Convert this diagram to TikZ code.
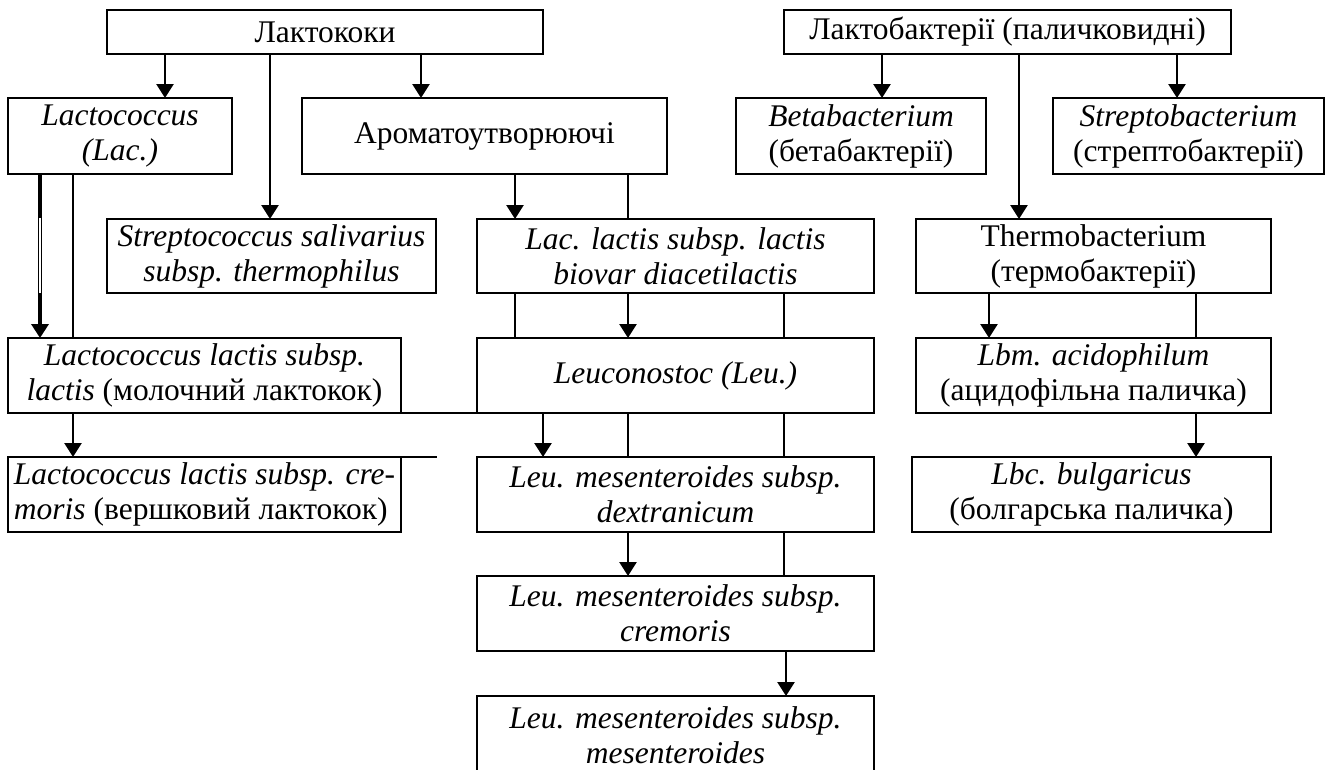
\documentclass[tikz,border=0pt]{standalone}
\usepackage{fontspec}
\setmainfont{Liberation Serif}
\usetikzlibrary{arrows.meta,calc}
\tikzset{
  box/.style={draw, line width=2.6pt, inner sep=0pt, outer sep=0pt, align=center,
    font=\fontsize{31.5}{35}\selectfont},
  arr/.style={line width=2.6pt, -{Triangle[width=17pt,length=14pt]}},
  link/.style={line width=2.6pt},
}
% box given by its corners: name, x1, y1, x2, y2, text
\newcommand\boxat[6]{%
  \node[box, minimum width={#4-#2}, minimum height={#5-#3}] (#1)
    at ({(#2+#4)/2},{(#3+#5)/2}) {#6};}
% vertical connector at abscissa #4 from the bottom of #2 to the top of #3
\newcommand\vlink[4]{%
  \draw[#1] let \p1=(#2.south), \p2=(#3.north) in (#4,\y1) -- (#4,\y2);}
\begin{document}
\begin{tikzpicture}[x=1pt,y=-1pt]
\useasboundingbox (0,0) rectangle (1326,769);
\clip (0,0) rectangle (1326,769);

% first row
\boxat{lakt}{107}{10}{543}{54}{Лактококи}
\boxat{lbact}{784}{10}{1231}{54}{Лактобактерії (паличковидні)}

% second row
\boxat{lac}{8}{98}{232}{174}{\textit{Lactococcus}\\\textit{(Lac.)}}
\boxat{arom}{302}{98}{667}{174}{Ароматоутворюючі}
\boxat{beta}{736}{98}{986}{174}{\textit{Betabacterium}\\(бетабактерії)}
\boxat{strb}{1053}{98}{1324}{174}{\textit{Streptobacterium}\\(стрептобактерії)}

% third row
\boxat{strc}{107}{219}{436}{293}{\textit{Streptococcus salivarius}\\\textit{subsp. thermophilus}}
\boxat{diac}{477}{219}{874}{293}{\textit{Lac. lactis subsp. lactis}\\\textit{biovar diacetilactis}}
\boxat{therm}{916}{219}{1271}{293}{Thermobacterium\\(термобактерії)}

% fourth row
\boxat{lll}{8}{338}{401}{413}{\textit{Lactococcus lactis subsp.}\\\textit{lactis} (молочний лактокок)}
\boxat{leu}{477}{338}{874}{413}{\textit{Leuconostoc (Leu.)}}
\boxat{lbm}{916}{338}{1271}{413}{\textit{Lbm. acidophilum}\\(ацидофільна паличка)}

% fifth row
\node[box, minimum width=393pt, minimum height=75pt, align=left] (llc) at (204.5,494.5)
  {\textit{Lactococcus lactis subsp. cre-}\\\textit{moris} (вершковий лактокок)};
\boxat{dex}{477}{457}{874}{532}{\textit{Leu. mesenteroides subsp.}\\\textit{dextranicum}}
\boxat{lbc}{912}{457}{1271}{532}{\textit{Lbc. bulgaricus}\\(болгарська паличка)}

% lower rows
\boxat{lcr}{477}{576}{874}{651}{\textit{Leu. mesenteroides subsp.}\\\textit{cremoris}}
\boxat{lme}{477}{696}{874}{774}{\textit{Leu. mesenteroides subsp.}\\\textit{mesenteroides}}

% connectors of the lactococci branch
\vlink{arr}{lakt}{lac}{165}
\vlink{arr}{lakt}{strc}{270}
\vlink{arr}{lakt}{arom}{421}
\vlink{arr, line width=4.5pt}{lac}{lll}{40}
\vlink{white, line width=1.2pt, shorten <=44pt, shorten >=45pt}{lac}{lll}{40}
\vlink{link}{lac}{lll}{73}
\vlink{arr}{lll}{llc}{73}
\vlink{arr}{arom}{diac}{515}
\vlink{link}{arom}{diac}{628}
\vlink{link}{diac}{leu}{515}
\vlink{arr}{diac}{leu}{628}
\vlink{link}{diac}{leu}{784}
\vlink{arr}{leu}{dex}{543}
\vlink{link}{leu}{dex}{628}
\vlink{link}{leu}{dex}{784}
\vlink{arr}{dex}{lcr}{628}
\vlink{link}{dex}{lcr}{784}
\vlink{arr}{lcr}{lme}{786}

% connectors of the lactobacteria branch
\vlink{arr}{lbact}{beta}{882}
\vlink{arr}{lbact}{therm}{1019}
\vlink{arr}{lbact}{strb}{1177}
\vlink{arr}{therm}{lbm}{989}
\vlink{link}{therm}{lbm}{1196}
\vlink{arr}{lbm}{lbc}{1196}

% extended border lines between the columns
\draw[link] (lll.south east) -- (leu.south west);
\coordinate (llcend) at (437,457);
\draw[link] (llc.north east) -- (llcend);
\end{tikzpicture}
\end{document}
